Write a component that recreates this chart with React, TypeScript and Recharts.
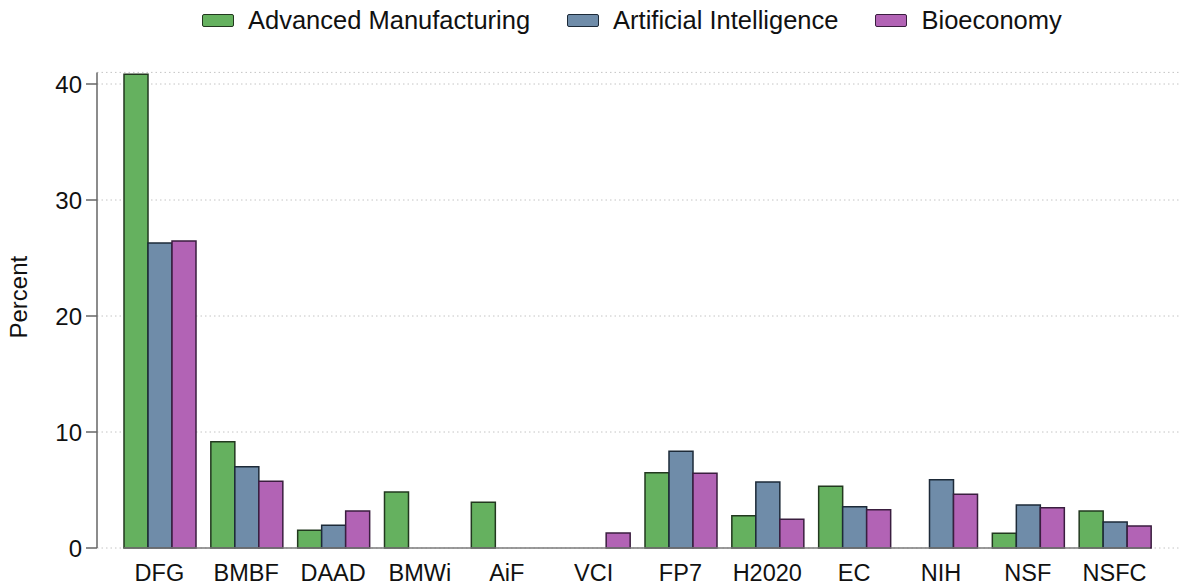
import React from 'react';
import { BarChart, Bar, XAxis, YAxis, CartesianGrid, Legend, ReferenceLine } from 'recharts';

const categories = ['DFG', 'BMBF', 'DAAD', 'BMWi', 'AiF', 'VCI', 'FP7', 'H2020', 'EC', 'NIH', 'NSF', 'NSFC'];
const advancedManufacturing = [40.85, 9.16, 1.52, 4.83, 3.94, null, 6.49, 2.78, 5.32, null, 1.27, 3.19];
const artificialIntelligence = [26.3, 7.01, 1.96, null, null, null, 8.34, 5.69, 3.56, 5.89, 3.71, 2.24];
const bioeconomy = [26.47, 5.75, 3.19, null, null, 1.29, 6.44, 2.47, 3.3, 4.63, 3.47, 1.9];
const yTicks = [0, 10, 20, 30, 40];

const seriesNames = ['Advanced Manufacturing', 'Artificial Intelligence', 'Bioeconomy'];
const fills = ['#65B15F', '#6F8CA9', '#B263B5'];
const strokes = ['#22381f', '#1d2a38', '#3a1e3f'];

const data = categories.map((name, i) => ({
  name,
  am: advancedManufacturing[i],
  ai: artificialIntelligence[i],
  bio: bioeconomy[i],
}));

const FONT = '"Liberation Sans", Arial, Helvetica, sans-serif';
const PAD_L = 19;
const PAD_R = 23;
const CAT_GAP = 8;

const LegendContent = (props: any) => {
  const payload = props.payload || [];
  return (
    <div style={{ height: 40, display: 'flex', alignItems: 'center', paddingLeft: 202, fontFamily: FONT, fontSize: 25.5, color: '#111' }}>
      {payload.map((p: any, i: number) => (
        <div key={i} style={{ display: 'flex', alignItems: 'center', marginRight: 37 }}>
          <div style={{ width: 30, height: 11, background: p.color, border: `1.5px solid ${strokes[i]}`, borderRadius: 2, marginRight: 14 }} />
          <span>{p.value}</span>
        </div>
      ))}
    </div>
  );
};

const YLabel = (props: any) => {
  const vb = props.viewBox || {};
  const cy = vb.y + vb.height / 2 - 13;
  const x = 27.5;
  return (
    <text x={x} y={cy} transform={`rotate(-90, ${x}, ${cy})`} textAnchor="middle" fontFamily={FONT} fontSize={24} fill="#111">
      Percent
    </text>
  );
};

const BaseLine = (p: any) => (
  <line x1={p.x1 + PAD_L + CAT_GAP} y1={p.y1} x2={p.x2 - PAD_R - CAT_GAP} y2={p.y2} stroke="#7a7a7a" strokeWidth={1.6} />
);

export default function App() {
  return (
    <div style={{ position: 'absolute', left: 0, top: 0, width: 1181, height: 586, background: '#fff', fontFamily: FONT }}>
      <BarChart
        width={1181}
        height={586}
        data={data}
        margin={{ top: 32.4, right: 0, bottom: 8, left: 0 }}
        barCategoryGap={CAT_GAP}
        barGap={0}
      >
        <CartesianGrid horizontal vertical={false} stroke="#c4c4c4" strokeDasharray="1.5 3" />
        <XAxis
          dataKey="name"
          interval={0}
          tickLine={false}
          axisLine={false}
          tickSize={0}
          tickMargin={16}
          height={30}
          padding={{ left: PAD_L, right: PAD_R }}
          tick={{ fontSize: 23.5, fill: '#111', fontFamily: FONT }}
        />
        <YAxis
          domain={[0, 41]}
          ticks={yTicks}
          width={97}
          tickSize={11}
          tickMargin={4}
          stroke="#666"
          axisLine={{ stroke: '#666', strokeWidth: 1.5 }}
          tickLine={{ stroke: '#666', strokeWidth: 1.5 }}
          tick={{ fontSize: 24, fill: '#111', fontFamily: FONT }}
          label={<YLabel />}
        />
        <Legend verticalAlign="top" content={<LegendContent />} wrapperStyle={{ top: 0, left: 0, width: 1181 }} />
        <Bar dataKey="am" name={seriesNames[0]} fill={fills[0]} stroke={strokes[0]} strokeWidth={1.5} isAnimationActive={false} />
        <Bar dataKey="ai" name={seriesNames[1]} fill={fills[1]} stroke={strokes[1]} strokeWidth={1.5} isAnimationActive={false} />
        <Bar dataKey="bio" name={seriesNames[2]} fill={fills[2]} stroke={strokes[2]} strokeWidth={1.5} isAnimationActive={false} />
        <ReferenceLine y={0} shape={<BaseLine />} />
      </BarChart>
    </div>
  );
}
